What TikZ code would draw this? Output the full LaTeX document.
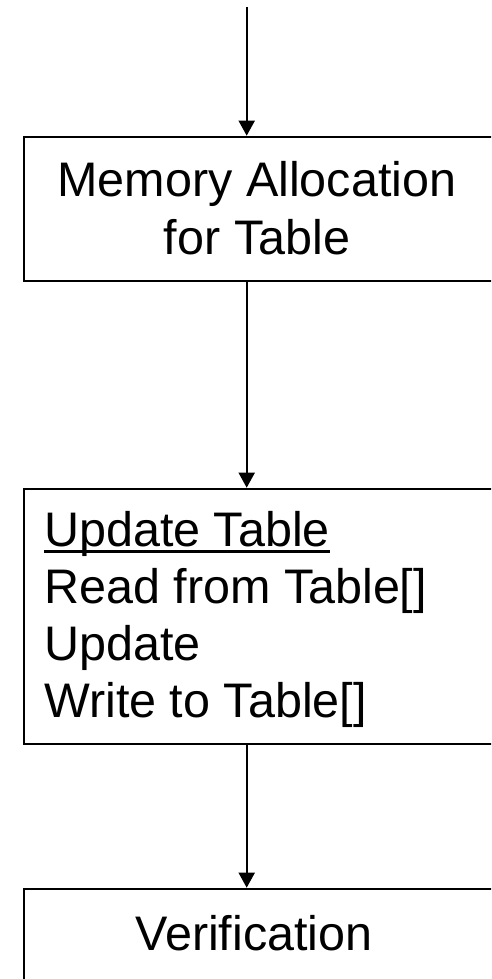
\documentclass[tikz,border=0pt]{standalone}
\usepackage{fontspec}
\setmainfont{Liberation Sans}
\usetikzlibrary{arrows.meta}
\newcommand\myul[1]{\setbox0=\hbox{#1}\rlap{\rule[-7pt]{\wd0}{3pt}}\box0}
\begin{document}
\begin{tikzpicture}[x=1pt,y=-1pt,
  box/.style={draw, line width=1.8pt, inner sep=0pt, anchor=north west},
  lbl/.style={font=\fontsize{48.5}{58}\selectfont, inner sep=0pt, anchor=base},
  flow/.style={-{Triangle[length=15pt,width=16pt]}, line width=1.8pt}]
\useasboundingbox (0,0) rectangle (491,979);
\clip (0,0) rectangle (491,979);
\node[box, minimum width=470pt, minimum height=144.3pt] (b1) at (22.7,135.7) {};
\node[box, minimum width=470pt, minimum height=255.6pt] (b2) at (22.7,487.7) {};
\node[box, minimum width=470pt, minimum height=130pt] (b3) at (22.7,887.7) {};
\node[lbl] (t1a) at (257,196.7) {Memory Allocation};
\node[lbl] (t1b) at (257,254) {for Table};
\node[lbl, anchor=base west] (t2a) at (44,546) {\myul{Update Table}};
\node[lbl, anchor=base west] (t2b) at (44,603.3) {Read from Table[]};
\node[lbl, anchor=base west] (t2c) at (44,660.6) {Update};
\node[lbl, anchor=base west] (t2d) at (44,717.9) {Write to Table[]};
\node[lbl] (t3) at (254,950) {Verification};
\coordinate (s) at (246.7,7);
\draw[flow] (s) -- (s |- b1.north);
\draw[flow] (b1.south -| s) -- (b2.north -| s);
\draw[flow] (b2.south -| s) -- (b3.north -| s);
\end{tikzpicture}
\end{document}
